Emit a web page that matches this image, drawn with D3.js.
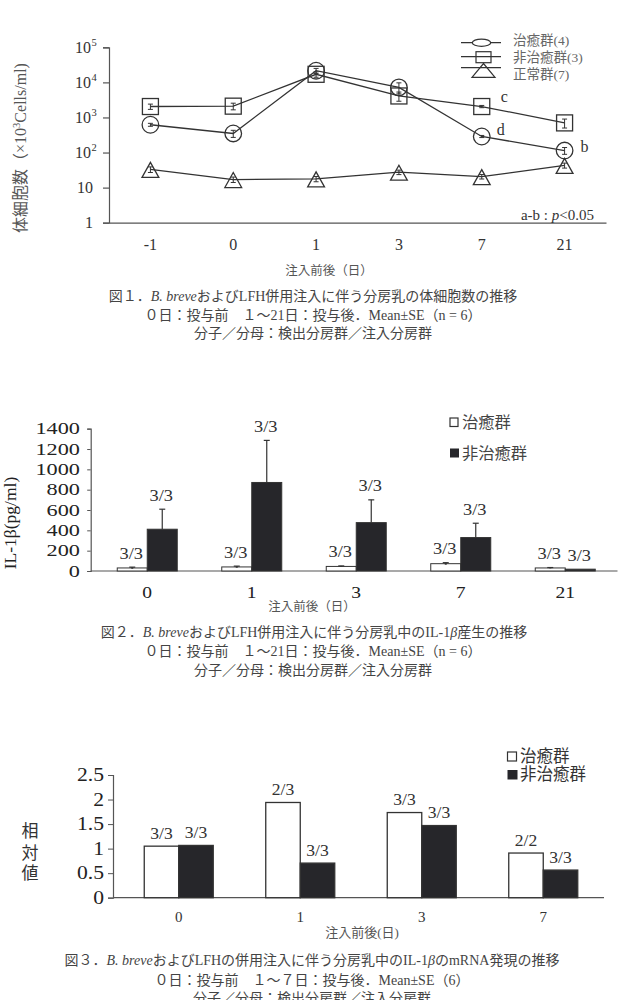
<!DOCTYPE html>
<html><head><meta charset="utf-8">
<script src="https://cdn.jsdelivr.net/npm/d3@7"></script>
<style>
body{margin:0;background:#fff;}
svg{display:block;}
text{font-family:"Liberation Serif","Noto Sans CJK JP",serif;}
</style></head><body>
<svg id="c" width="619" height="1000"></svg>
<script>
// ---------- Figure 1 data ----------
const days1 = ["-1","0","1","3","7","21"];
const curedVals   = [620, 350, 21500, 7200, 287, 114];
const curedSE     = [60, 80, 3500, 2500, 20, 25];
const uncuredVals = [2050, 2100, 17000, 4100, 2050, 700];
const uncuredSE   = [350, 450, 3000, 1200, 150, 200];
const normalVals  = [33, 17, 17.7, 27.5, 20.6, 43];
const normalSE    = [6, 3, 3, 4, 3, 7];
const logTicks1   = [1, 10, 100, 1000, 10000, 100000];
const legend1     = ["治癒群(4)", "非治癒群(3)", "正常群(7)"];
const sigLetters  = [["uncured","7","c"],["cured","7","d"],["cured","21","b"]];

// ---------- Figure 2 data ----------
const days2 = ["0","1","3","7","21"];
const il1Cured     = [30, 40, 45, 72, 30];
const il1CuredSE   = [8, 8, 5, 10, 4];
const il1Uncured   = [411, 871, 476, 329, 18];
const il1UncuredSE = [197, 414, 224, 141, 0];
const frac2Cured   = ["3/3","3/3","3/3","3/3","3/3"];
const frac2Uncured = ["3/3","3/3","3/3","3/3","3/3"];
const ticks2 = [0,200,400,600,800,1000,1200,1400];

// ---------- Figure 3 data ----------
const days3 = ["0","1","3","7"];
const mrnaCured   = [1.05, 1.94, 1.735, 0.91];
const mrnaUncured = [1.065, 0.705, 1.47, 0.563];
const frac3Cured   = ["3/3","2/3","3/3","2/2"];
const frac3Uncured = ["3/3","3/3","3/3","3/3"];
const ticks3 = [0,0.5,1,1.5,2,2.5];

const groups = ["治癒群","非治癒群"];
const INK = "#333";
const svg = d3.select("#c");

// horizontally stretched text helper
function stext(g, x, y, str, size, sx, anchor, fill){
  return g.append("text").attr("transform",`translate(${x},${y}) scale(${sx},1)`)
    .attr("text-anchor",anchor).attr("font-size",size).attr("fill",fill)
    .attr("font-family","Liberation Serif").text(str);
}

// ================= FIGURE 1 =================
{
  const g = svg.append("g");
  const x = d3.scaleBand().domain(days1).range([109, 606]);
  const y = d3.scaleLog().domain([1, 100000]).range([222.7, 47.3]);
  const cx = d => x(d) + x.bandwidth()/2;

  const ya = g.append("g").attr("transform","translate(109,0)")
    .call(d3.axisLeft(y).tickValues(logTicks1).tickSize(6).tickFormat(()=>""));
  ya.selectAll("path,line").attr("stroke", "#555").attr("stroke-width",1.2);
  logTicks1.forEach(t=>{
    const e = Math.round(Math.log10(t));
    const yy = y(t) + 5.5;
    if (e <= 1) {
      g.append("text").attr("x",93).attr("y",yy).attr("text-anchor","end")
        .attr("font-size",16).attr("fill",INK).text(t);
    } else {
      g.append("text").attr("x",91).attr("y",yy).attr("text-anchor","end")
        .attr("font-size",16).attr("fill",INK).text("10");
      g.append("text").attr("x",91.5).attr("y",yy-7).attr("font-size",10.5)
        .attr("fill",INK).text(e);
    }
  });
  const xa = g.append("g").attr("transform","translate(0,222.7)")
    .call(d3.axisBottom(x).tickSize(0).tickSizeOuter(0).tickPadding(16));
  xa.select(".domain").attr("stroke","#555").attr("stroke-width",1.2);
  xa.selectAll("text").attr("font-size",16).attr("fill",INK)
    .attr("font-family","Liberation Serif");

  const series = [
    {key:"cured",   vals:curedVals,   se:curedSE,   shape:"circle"},
    {key:"uncured", vals:uncuredVals, se:uncuredSE, shape:"square"},
    {key:"normal",  vals:normalVals,  se:normalSE,  shape:"triangle"}
  ];
  const line = d3.line().x(d=>cx(d.day)).y(d=>y(d.v));
  series.forEach(s=>{
    const pts = days1.map((d,i)=>({day:d, v:s.vals[i], se:s.se[i]}));
    g.append("path").datum(pts).attr("d",line).attr("fill","none")
      .attr("stroke",INK).attr("stroke-width",1.3);
    pts.forEach(p=>{
      const x0 = cx(p.day), y1 = y(p.v+p.se), y2 = y(Math.max(p.v-p.se, 1));
      const eb = g.append("g").attr("stroke",INK).attr("stroke-width",1);
      eb.append("line").attr("x1",x0).attr("x2",x0).attr("y1",y1).attr("y2",y2);
      eb.append("line").attr("x1",x0-2.5).attr("x2",x0+2.5).attr("y1",y1).attr("y2",y1);
      eb.append("line").attr("x1",x0-2.5).attr("x2",x0+2.5).attr("y1",y2).attr("y2",y2);
    });
    pts.forEach(p=>{
      const x0 = cx(p.day), y0 = y(p.v);
      let m;
      if (s.shape==="circle") m = g.append("circle").attr("cx",x0).attr("cy",y0).attr("r",8.3);
      else if (s.shape==="square") m = g.append("rect").attr("x",x0-8).attr("y",y0-8).attr("width",16).attr("height",16);
      else m = g.append("path").attr("d",`M${x0},${y0-7}L${x0+8.4},${y0+8}L${x0-8.4},${y0+8}Z`);
      m.attr("fill","none").attr("stroke",INK).attr("stroke-width",1.3);
    });
  });
  const letterOff = {c:[19,-5], d:[15,-1], b:[16,1]};
  sigLetters.forEach(([k,d,l])=>{
    const s = series.find(s=>s.key===k);
    const v = s.vals[days1.indexOf(d)];
    g.append("text").attr("x",cx(d)+letterOff[l][0]).attr("y",y(v)+letterOff[l][1])
      .attr("font-size",16).attr("fill",INK).text(l);
  });
  const pn = g.append("text").attr("x",594).attr("y",220).attr("text-anchor","end")
    .attr("font-size",15).attr("fill",INK);
  pn.append("tspan").text("a-b : ");
  pn.append("tspan").attr("font-style","italic").text("p");
  pn.append("tspan").text("<0.05");

  const ly = [42.7, 56.7, 67.7];
  const lg = g.append("g").attr("stroke",INK).attr("stroke-width",1.2).attr("fill","none");
  ly.forEach(yy=>lg.append("line").attr("x1",461).attr("x2",501).attr("y1",yy).attr("y2",yy));
  lg.append("ellipse").attr("cx",481.5).attr("cy",42.7).attr("rx",9.2).attr("ry",3.6).attr("fill","#fff");
  lg.append("rect").attr("x",476).attr("y",51.7).attr("width",15).attr("height",11);
  lg.append("path").attr("d","M483.5,63.5L495,77.3L472,77.3Z");
  const ty = [40, 57.3, 74];
  legend1.forEach((t,i)=>{
    g.append("text").attr("x",513).attr("y",ty[i]+4.8).attr("font-size",13.5)
      .attr("fill","#666").text(t);
  });

  const yt = g.append("text").attr("transform","translate(26,148) rotate(-90)")
    .attr("text-anchor","middle").attr("font-size",16).attr("fill","#555");
  yt.append("tspan").text("体細胞数（×10");
  yt.append("tspan").attr("font-size",10.5).attr("dy",-6).text("3");
  yt.append("tspan").attr("dy",6).text("Cells/ml)");
  g.append("text").attr("x",329).attr("y",274.5).attr("text-anchor","middle")
    .attr("font-size",12.5).attr("fill","#555").text("注入前後（日）");
}

// ================= FIGURE 2 =================
{
  const g = svg.append("g");
  const x = d3.scaleBand().domain(days2).range([95, 617.5]);
  const xi = d3.scaleBand().domain(groups).range([-30, 30]);
  const y = d3.scaleLinear().domain([0,1400]).range([571, 428.7]);
  const cx = d => x(d) + x.bandwidth()/2;

  const ya = g.append("g").attr("transform","translate(90.7,0)")
    .call(d3.axisLeft(y).tickValues(ticks2).tickSize(3.5).tickFormat(()=>""));
  ya.select(".domain").attr("stroke","#555").attr("stroke-width",1.2);
  ya.selectAll("line").attr("stroke","#555");
  ticks2.forEach(t=>stext(g, 80, y(t)+5.5, d3.format("d")(t), 16.5, 1.35, "end", "#222"));

  const xa = g.append("g").attr("transform","translate(0,571)")
    .call(d3.axisBottom(x).tickSize(0).tickSizeOuter(0).tickFormat(()=>""));
  xa.select(".domain").remove();
  days2.forEach(d=>stext(g, cx(d), 598, d, 17, 1.15, "middle", "#222"));
  g.append("line").attr("x1",90.7).attr("x2",x.range()[1]).attr("y1",571).attr("y2",571)
    .attr("stroke","#555").attr("stroke-width",1.2);

  const sets = [
    {grp:groups[0], vals:il1Cured,   se:il1CuredSE,   frac:frac2Cured,   fill:"#fff"},
    {grp:groups[1], vals:il1Uncured, se:il1UncuredSE, frac:frac2Uncured, fill:"#26262a"}
  ];
  sets.forEach(s=>{
    days2.forEach((d,i)=>{
      const bx = cx(d) + xi(s.grp), bw = xi.bandwidth();
      const v = s.vals[i], se = s.se[i];
      g.append("rect").attr("x",bx).attr("y",y(v)).attr("width",bw).attr("height",y(0)-y(v))
        .attr("fill",s.fill).attr("stroke","#333").attr("stroke-width",1);
      if (se > 0) {
        const mx = bx + bw/2;
        const top = y(v+se);
        const bot = s.fill==="#fff" ? y(Math.max(v-se,0)) : y(v);
        g.append("line").attr("x1",mx).attr("x2",mx).attr("y1",top).attr("y2",bot)
          .attr("stroke","#333").attr("stroke-width",s.fill==="#fff"?2:1.2);
        g.append("line").attr("x1",mx-3).attr("x2",mx+3).attr("y1",top).attr("y2",top)
          .attr("stroke","#333").attr("stroke-width",1.2);
      }
      stext(g, bx+bw/2-1, y(v+se)-14+5.5, s.frac[i], 16, 1.15, "middle", "#333");
    });
  });

  g.append("rect").attr("x",450).attr("y",418).attr("width",8).attr("height",8.5)
    .attr("fill","#fff").attr("stroke","#333").attr("stroke-width",1.2);
  g.append("text").attr("x",462).attr("y",427.5).attr("font-size",16.3).attr("fill","#444").text(groups[0]);
  g.append("rect").attr("x",450).attr("y",448.5).attr("width",9).attr("height",9)
    .attr("fill","#26262a");
  g.append("text").attr("x",462).attr("y",458.5).attr("font-size",16.3).attr("fill","#444").text(groups[1]);

  g.append("text").attr("transform","translate(16,523) rotate(-90)").attr("text-anchor","middle")
    .attr("font-size",17.5).attr("fill","#222").text("IL-1β(pg/ml)");
  g.append("text").attr("x",312).attr("y",611).attr("text-anchor","middle")
    .attr("font-size",12.5).attr("fill","#555").text("注入前後（日）");
}

// ================= FIGURE 3 =================
{
  const g = svg.append("g");
  const x = d3.scaleBand().domain(days3).range([118, 604]);
  const xi = d3.scaleBand().domain(groups).range([-34.5, 34.5]);
  const y = d3.scaleLinear().domain([0,2.5]).range([897.7, 775]);
  const cx = d => x(d) + x.bandwidth()/2;

  const ya = g.append("g").attr("transform","translate(113,0)")
    .call(d3.axisLeft(y).tickValues(ticks3).tickSize(5).tickFormat(()=>""));
  ya.select(".domain").attr("stroke","#555").attr("stroke-width",1.2);
  ya.selectAll("line").attr("stroke","#555");
  ticks3.forEach(t=>stext(g, 104, y(t)+6, d3.format("")(t), 18, 1.2, "end", "#222"));

  const xa = g.append("g").attr("transform","translate(0,897.7)")
    .call(d3.axisBottom(x).tickSize(0).tickSizeOuter(0).tickPadding(14));
  xa.select(".domain").remove();
  xa.selectAll("text").attr("font-size",15).attr("fill","#333")
    .attr("font-family","Liberation Serif");
  g.append("line").attr("x1",113).attr("x2",x.range()[1]).attr("y1",897.7).attr("y2",897.7)
    .attr("stroke","#555").attr("stroke-width",1.2);

  const sets = [
    {grp:groups[0], vals:mrnaCured,   frac:frac3Cured,   fill:"#fff"},
    {grp:groups[1], vals:mrnaUncured, frac:frac3Uncured, fill:"#26262a"}
  ];
  sets.forEach(s=>{
    days3.forEach((d,i)=>{
      const bx = cx(d) + xi(s.grp), bw = xi.bandwidth(), v = s.vals[i];
      g.append("rect").attr("x",bx).attr("y",y(v)).attr("width",bw).attr("height",y(0)-y(v))
        .attr("fill",s.fill).attr("stroke","#333").attr("stroke-width",1.3);
      stext(g, bx+bw/2, y(v)-13+5.5, s.frac[i], 16, 1.1, "middle", "#333");
    });
  });

  g.append("rect").attr("x",507.5).attr("y",752).attr("width",9).attr("height",9)
    .attr("fill","#fff").attr("stroke","#333").attr("stroke-width",1.2);
  g.append("text").attr("x",520).attr("y",762).attr("font-size",16.5).attr("fill","#333").text(groups[0]);
  g.append("rect").attr("x",507.5).attr("y",770).attr("width",10).attr("height",9.5).attr("fill","#26262a");
  g.append("text").attr("x",520).attr("y",780.3).attr("font-size",16.5).attr("fill","#333").text(groups[1]);

  ["相","対","値"].forEach((c,i)=>{
    g.append("text").attr("x",30).attr("y",[830.7,852.7,872.7][i]+6).attr("text-anchor","middle")
      .attr("font-size",17).attr("fill","#333").text(c);
  });
  g.append("text").attr("x",362).attr("y",937).attr("text-anchor","middle")
    .attr("font-size",13).attr("fill","#555").text("注入前後(日)");
}

// ================= CAPTIONS =================
function caption(yy, parts, cxp, size){
  const t = svg.append("text").attr("x",cxp).attr("y",yy).attr("text-anchor","middle")
    .attr("font-size",size).attr("fill","#444");
  parts.forEach(p=>{
    const s = t.append("tspan").text(p.t);
    if (p.i) s.attr("font-style","italic");
  });
}
caption(301, [{t:"図１．"},{t:"B. breve",i:true},{t:"およびLFH併用注入に伴う分房乳の体細胞数の推移"}], 313, 14);
caption(319.5, [{t:"０日：投与前　１～21日：投与後．Mean±SE（n = 6）"}], 313, 14);
caption(338, [{t:"分子／分母：検出分房群／注入分房群"}], 313, 14);

caption(636.5, [{t:"図２．"},{t:"B. breve",i:true},{t:"およびLFH併用注入に伴う分房乳中のIL-1"},{t:"β",i:true},{t:"産生の推移"}], 314, 14);
caption(655.5, [{t:"０日：投与前　１～21日：投与後．Mean±SE（n = 6）"}], 313, 14);
caption(675, [{t:"分子／分母：検出分房群／注入分房群"}], 313, 14);

caption(965, [{t:"図３．"},{t:"B. breve",i:true},{t:"およびLFHの併用注入に伴う分房乳中のIL-1"},{t:"β",i:true},{t:"のmRNA発現の推移"}], 312, 14);
caption(984.5, [{t:"０日：投与前　１～７日：投与後．Mean±SE（6）"}], 312, 14);
caption(1003, [{t:"分子／分母：検出分房群／注入分房群"}], 312, 14);
</script>
</body></html>
